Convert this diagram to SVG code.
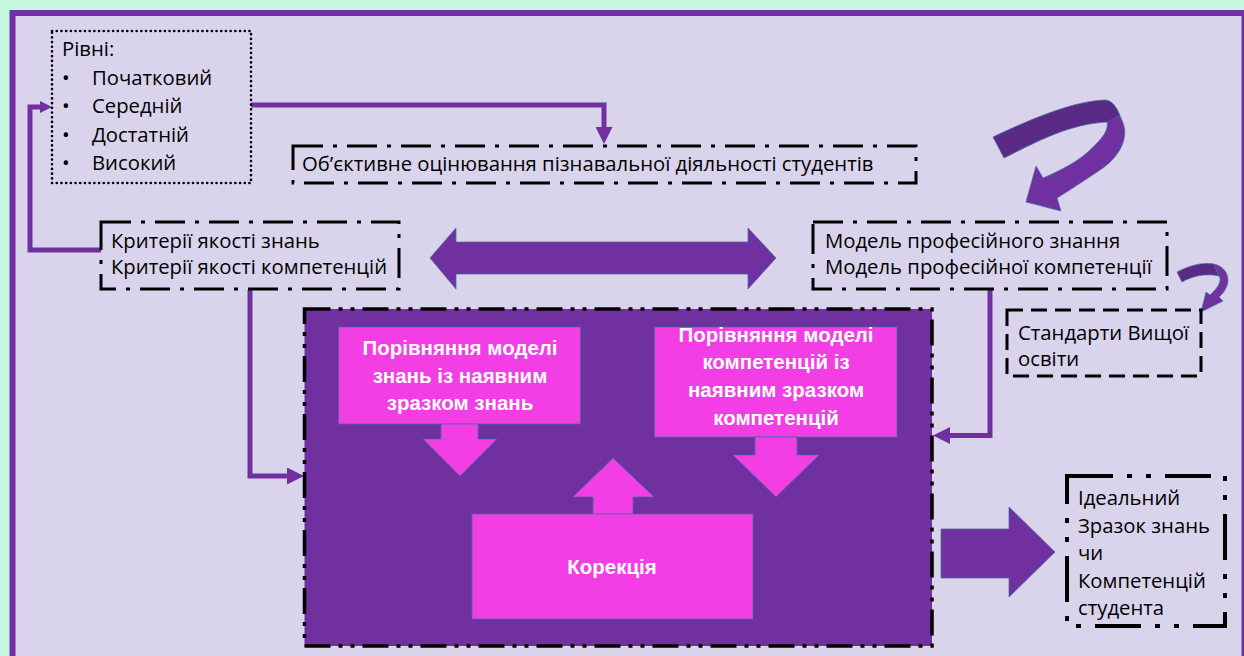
<svg xmlns="http://www.w3.org/2000/svg" width="1244" height="656" viewBox="0 0 1244 656">
<defs>
<style>
.t{font-family:"Open Sans","Liberation Sans",Arial,sans-serif;font-size:20.3px;fill:#000}
.w{font-family:"Liberation Sans",Arial,sans-serif;font-size:20.5px;font-weight:bold;fill:#fff;text-anchor:middle}
.conn{fill:none;stroke:#7030a0;stroke-width:5}
.pink{fill:#f33ee6;stroke:#41719c;stroke-width:0.75}
.vio{fill:#7030a0;stroke:#41719c;stroke-width:0.75}
.dark{fill:#592a86;stroke:#41719c;stroke-width:0.75}
.dd{fill:none;stroke:#000;stroke-width:3;stroke-dasharray:30 10 4 10}
.ddd{fill:none;stroke:#000;stroke-width:3.5;stroke-dasharray:26 8 4 8 4 8}
</style>
<marker id="ah" markerUnits="userSpaceOnUse" viewBox="0 0 10 10" refX="0" refY="5" markerWidth="17" markerHeight="17" orient="auto"><path d="M0,0 L10,5 L0,10 z" fill="#7030a0"/></marker>
<marker id="ahs" markerUnits="userSpaceOnUse" viewBox="0 0 10 10" refX="0" refY="5" markerWidth="12" markerHeight="12" orient="auto"><path d="M0,0 L10,5 L0,10 z" fill="#7030a0"/></marker>
</defs>
<rect x="0" y="0" width="1244" height="656" fill="#c6f8e2"/>
<rect x="12.5" y="13" width="1232" height="660" fill="#d9d4ec" stroke="#7030a0" stroke-width="6"/>

<g id="connectors">
<polyline class="conn" points="251,105 604,105 604,127" marker-end="url(#ah)"/>
<polyline class="conn" points="101,250 30,250 30,107 40,107" marker-end="url(#ahs)"/>
<polyline class="conn" points="250,290 250,476 287,476" marker-end="url(#ah)"/>
<polyline class="conn" points="990,289 990,435.5 950,435.5" marker-end="url(#ah)"/>
<polygon id="double-arrow" class="vio" points="430,258 456,228 456,242 748,242 748,228 776,258 748,289 748,274 456,274 456,289"/>
<polygon id="result-arrow" class="vio" points="941,529 1009,529 1009,507 1055,552 1009,597 1009,578 941,578"/>
<g id="curved-arrow-big">
<path class="dark" d="M993,137 C1035,117 1075,101 1105,100 C1113,100 1119,110 1122,122 L1107,122 C1070,124 1040,140 1004,158 Z"/>
<path class="vio" d="M1119,116 C1132,132 1122,156 1100,170 C1085,180 1070,190 1057,198 L1061,211 L1026,202 L1036,166 L1043,178 C1062,170 1080,160 1090,150 C1102,139 1109,130 1107,122 Z"/>
</g>
<g id="curved-arrow-small">
<path class="dark" d="M1177,272 C1190,265 1204,262 1214,264 L1219,276 C1205,273 1193,276 1182,282 Z"/>
<path class="vio" d="M1214,264 C1230,268 1233,285 1219,297 L1223,301 L1201,312 L1206,292 L1210,295 C1219,287 1222,280 1219,276 Z"/>
</g>
</g>

<g id="levels">
<rect x="52" y="31" width="199" height="152" fill="none" stroke="#000" stroke-width="2.6" stroke-dasharray="0.1 4.6" stroke-linecap="round"/>
<text class="t" x="62" y="56">Рівні:</text>
<text class="t" x="62" y="85">•</text><text class="t" x="92" y="85">Початковий</text>
<text class="t" x="62" y="113">•</text><text class="t" x="92" y="113">Середній</text>
<text class="t" x="62" y="142">•</text><text class="t" x="92" y="142">Достатній</text>
<text class="t" x="62" y="170">•</text><text class="t" x="92" y="170">Високий</text>
</g>

<g id="objective">
<rect class="dd" x="293" y="146" width="623" height="37"/>
<text class="t" x="302" y="171">Об’єктивне оцінювання пізнавальної діяльності студентів</text>
</g>

<g id="criteria">
<rect class="dd" x="101" y="222" width="298" height="67"/>
<text class="t" x="111" y="248">Критерії якості знань</text>
<text class="t" x="111" y="274">Критерії якості компетенцій</text>
</g>

<g id="model">
<rect class="dd" x="813" y="222" width="354" height="67"/>
<text class="t" x="825" y="248">Модель професійного знання</text>
<text class="t" x="825" y="274">Модель професійної компетенції</text>
</g>

<g id="standards">
<rect x="1007" y="310" width="194" height="66" fill="none" stroke="#000" stroke-width="3" stroke-dasharray="16 8"/>
<text class="t" x="1018" y="340">Стандарти Вищої</text>
<text class="t" x="1018" y="366">освіти</text>
</g>

<g id="main">
<rect x="304.5" y="309" width="627.5" height="337" fill="#7030a0"/>
<rect class="ddd" x="304.5" y="309" width="627.5" height="337"/>
<g id="compare-knowledge">
<rect class="pink" x="338.5" y="327" width="242" height="97"/>
<polygon class="pink" points="441,424 478,424 478,439 497,439 460,476 423,439 441,439"/>
<text class="w" x="460" y="355">Порівняння моделі</text>
<text class="w" x="460" y="383">знань із наявним</text>
<text class="w" x="460" y="410">зразком знань</text>
</g>
<g id="compare-competence">
<rect class="pink" x="654.5" y="327" width="242.5" height="110"/>
<polygon class="pink" points="755,437 797,437 797,455 819,455 776,497 733,455 755,455"/>
<text class="w" x="776" y="342">Порівняння моделі</text>
<text class="w" x="776" y="369">компетенцій із</text>
<text class="w" x="776" y="397">наявним зразком</text>
<text class="w" x="776" y="425">компетенцій</text>
</g>
<g id="correction">
<polygon class="pink" points="593,514 593,497 573,497 613,458 654,497 633,497 633,514"/>
<rect class="pink" x="472" y="514" width="281" height="105"/>
<text class="w" x="612" y="574">Корекція</text>
</g>
</g>

<g id="ideal">
<rect x="1067" y="476" width="158" height="150" fill="none" stroke="#000" stroke-width="4" stroke-dasharray="46 14 5 14 5 14"/>
<text class="t" x="1078" y="505">Ідеальний</text>
<text class="t" x="1078" y="533">Зразок знань</text>
<text class="t" x="1078" y="560">чи</text>
<text class="t" x="1078" y="588">Компетенцій</text>
<text class="t" x="1078" y="615">студента</text>
</g>
</svg>
